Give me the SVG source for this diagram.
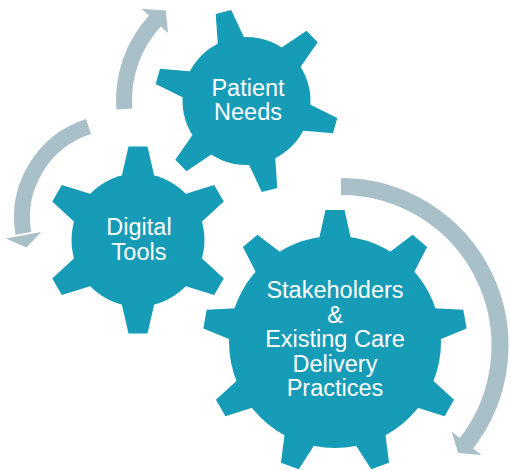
<svg xmlns="http://www.w3.org/2000/svg" xmlns:xlink="http://www.w3.org/1999/xlink" width="510" height="470" viewBox="0 0 510 470">
  <style>
    .gear { fill: #179CB7; }
    .lbl { font-family: "Liberation Sans", Arial, sans-serif; font-size: 23.5px; fill: #FFFFFF; text-anchor: middle; }
    .shaft { fill: none; stroke: #A9C0C9; }
    .head { fill: #A9C0C9; }
  </style>
  <defs>
    <polygon id="tooth1" points="-14,-60 14,-60 8,-92 -8,-92"/>
    <polygon id="tooth2" points="-16.5,-63 16.5,-63 9.5,-93.5 -9.5,-93.5"/>
    <polygon id="tooth3" points="-16,-103 16,-103 9.5,-132 -9.5,-132"/>
  </defs>
  <rect width="510" height="470" fill="#FFFFFF"/>

  <g id="connectors">
    <g id="arrow-needs-up">
      <path class="shaft" stroke-width="16" d="M124.35,108.98 A117,117 0 0 1 155.6,20.2"/>
      <polygon class="head" points="168.0,33.1 141.5,8.8 165.8,10.4"/>
    </g>
    <g id="arrow-tools-down">
      <path class="shaft" stroke-width="16" d="M88.5,126.5 A95.7,95.7 0 0 0 23.3,233.4"/>
      <polygon class="head" points="41.2,231.9 5.8,238.4 26.4,247.5"/>
    </g>
    <g id="arrow-stakeholders-down">
      <path class="shaft" stroke-width="17" d="M341,186.5 A159.1,159.1 0 0 1 465.5,444.5"/>
      <polygon class="head" points="451.5,431.6 481.5,454.9 458.2,453.0"/>
    </g>
  </g>

  <g id="patient-needs" class="gear">
    <circle cx="246.5" cy="101" r="64"/>
    <use xlink:href="#tooth1" href="#tooth1" transform="translate(246.5,101) rotate(-14.5)"/>
    <use xlink:href="#tooth1" href="#tooth1" transform="translate(246.5,101) rotate(45.5)"/>
    <use xlink:href="#tooth1" href="#tooth1" transform="translate(246.5,101) rotate(105.5)"/>
    <use xlink:href="#tooth1" href="#tooth1" transform="translate(246.5,101) rotate(165.5)"/>
    <use xlink:href="#tooth1" href="#tooth1" transform="translate(246.5,101) rotate(225.5)"/>
    <use xlink:href="#tooth1" href="#tooth1" transform="translate(246.5,101) rotate(285.5)"/>
    <text class="lbl" x="248" y="95.5">Patient</text>
    <text class="lbl" x="248" y="120">Needs</text>
  </g>

  <g id="digital-tools" class="gear">
    <circle cx="138" cy="240" r="66.5"/>
    <use xlink:href="#tooth2" href="#tooth2" transform="translate(138,240) rotate(0)"/>
    <use xlink:href="#tooth2" href="#tooth2" transform="translate(138,240) rotate(60)"/>
    <use xlink:href="#tooth2" href="#tooth2" transform="translate(138,240) rotate(120)"/>
    <use xlink:href="#tooth2" href="#tooth2" transform="translate(138,240) rotate(180)"/>
    <use xlink:href="#tooth2" href="#tooth2" transform="translate(138,240) rotate(240)"/>
    <use xlink:href="#tooth2" href="#tooth2" transform="translate(138,240) rotate(300)"/>
    <text class="lbl" x="139" y="234.5">Digital</text>
    <text class="lbl" x="139" y="259.5">Tools</text>
  </g>

  <g id="stakeholders" class="gear">
    <circle cx="335" cy="342" r="106"/>
    <use xlink:href="#tooth3" href="#tooth3" transform="translate(335,342) rotate(0)"/>
    <use xlink:href="#tooth3" href="#tooth3" transform="translate(335,342) rotate(40)"/>
    <use xlink:href="#tooth3" href="#tooth3" transform="translate(335,342) rotate(80)"/>
    <use xlink:href="#tooth3" href="#tooth3" transform="translate(335,342) rotate(120)"/>
    <use xlink:href="#tooth3" href="#tooth3" transform="translate(335,342) rotate(160)"/>
    <use xlink:href="#tooth3" href="#tooth3" transform="translate(335,342) rotate(200)"/>
    <use xlink:href="#tooth3" href="#tooth3" transform="translate(335,342) rotate(240)"/>
    <use xlink:href="#tooth3" href="#tooth3" transform="translate(335,342) rotate(280)"/>
    <use xlink:href="#tooth3" href="#tooth3" transform="translate(335,342) rotate(320)"/>
    <text class="lbl" x="335" y="298">Stakeholders</text>
    <text class="lbl" x="335" y="322.5">&amp;</text>
    <text class="lbl" x="335" y="347">Existing Care</text>
    <text class="lbl" x="335" y="371.5">Delivery</text>
    <text class="lbl" x="335" y="396">Practices</text>
  </g>
</svg>
